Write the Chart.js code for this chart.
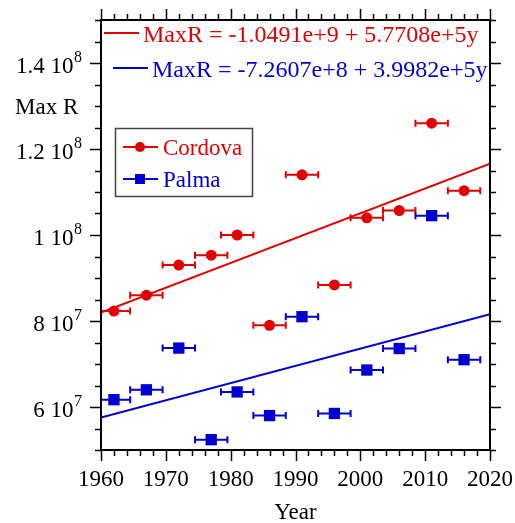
<!DOCTYPE html>
<html>
<head>
<meta charset="utf-8">
<script src="https://cdn.jsdelivr.net/npm/chart.js@4"></script>
<style>
  html, body { margin: 0; padding: 0; background: #fff; }
  #wrap { width: 515px; height: 523px; }
</style>
</head>
<body>
<div id="wrap"><canvas id="maxrChart" width="515" height="523"></canvas></div>
<script>
// data
const years = [1962, 1967, 1972, 1977, 1981, 1986, 1991, 1996, 2001, 2006, 2011, 2016];
const cordova = [8.23e7, 8.6e7, 9.3e7, 9.53e7, 1.0e8, 7.9e7, 1.14e8, 8.84e7, 1.04e8, 1.057e8, 1.26e8, 1.103e8];
const palma = [6.17e7, 6.4e7, 7.37e7, 5.24e7, 6.35e7, 5.8e7, 8.1e7, 5.85e7, 6.86e7, 7.36e7, 1.045e8, 7.1e7];
const yearErr = 2.5;

// fit lines, as printed on the chart: MaxR = a + b*y
const fitCordova = [-1.0491e9, 5.7708e5];
const fitPalma = [-7.2607e8, 3.9982e5];
const fitRange = [1960, 2020];
const fitLabels = ['MaxR = -1.0491e+9 + 5.7708e+5y', 'MaxR = -7.2607e+8 + 3.9982e+5y'];

const xTicks = [1960, 1970, 1980, 1990, 2000, 2010, 2020];
const yTickValues = [6e7, 8e7, 1e8, 1.2e8, 1.4e8];
const yTickMantissa = ['6', '8', '1', '1.2', '1.4'];
const yTickExp = ['7', '7', '8', '8', '8'];

const RED = 'rgb(225,0,0)';
const BLUE = 'rgb(0,0,210)';
const FONT = '"Liberation Serif", "Times New Roman", serif';

const toPoints = (xs, ys) => xs.map((x, i) => ({ x: x, y: ys[i] }));
const fitPoints = fit => fitRange.map(x => ({ x: x, y: fit[0] + fit[1] * x }));

// horizontal error bars, under the markers
const errorBars = {
    id: 'errorBars',
    beforeDatasetsDraw(chart) {
        const { ctx, chartArea: a, scales: { x, y } } = chart;
        ctx.save();
        ctx.beginPath();
        ctx.rect(a.left, a.top, a.right - a.left, a.bottom - a.top);
        ctx.clip();
        ctx.lineWidth = 2;
        chart.data.datasets.forEach(ds => {
            if (!ds.xErr) return;
            ctx.strokeStyle = ds.borderColor;
            ds.data.forEach(p => {
                const x0 = x.getPixelForValue(p.x - ds.xErr);
                const x1 = x.getPixelForValue(p.x + ds.xErr);
                const py = y.getPixelForValue(p.y);
                ctx.beginPath();
                ctx.moveTo(x0, py); ctx.lineTo(x1, py);
                ctx.moveTo(x0, py - 3.5); ctx.lineTo(x0, py + 3.5);
                ctx.moveTo(x1, py - 3.5); ctx.lineTo(x1, py + 3.5);
                ctx.stroke();
            });
        });
        ctx.restore();
    }
};

// frame, ticks, labels, legend and fit equations
const decorations = {
    id: 'decorations',
    afterDraw(chart) {
        const { ctx, chartArea: a, scales: { x, y } } = chart;
        ctx.save();
        ctx.strokeStyle = '#000';
        ctx.lineWidth = 2;
        ctx.strokeRect(a.left, a.top, a.right - a.left, a.bottom - a.top);

        const major = 11, minor = 6;
        ctx.lineWidth = 1.5;
        ctx.beginPath();
        for (let yr = 1960; yr <= 2020; yr += 2) {
            const px = Math.round(x.getPixelForValue(yr)) + 0.5;
            const len = yr % 10 === 0 ? major : minor;
            ctx.moveTo(px, a.bottom); ctx.lineTo(px, a.bottom + len);
            ctx.moveTo(px, a.top); ctx.lineTo(px, a.top - len);
        }
        for (let v = 5e7; v <= 1.5e8; v += 5e6) {
            const py = Math.round(y.getPixelForValue(v)) + 0.5;
            const len = Math.round(v / 5e6) % 4 === 0 ? major : minor;
            ctx.moveTo(a.left, py); ctx.lineTo(a.left - len, py);
            ctx.moveTo(a.right, py); ctx.lineTo(a.right + len, py);
        }
        ctx.stroke();

        ctx.fillStyle = '#000';
        ctx.font = '23px ' + FONT;
        ctx.textAlign = 'center';
        ctx.textBaseline = 'alphabetic';
        xTicks.forEach(t => ctx.fillText(String(t), x.getPixelForValue(t), 486));
        ctx.fillText('Year', (a.left + a.right) / 2, 519);

        yTickValues.forEach((v, i) => {
            const py = y.getPixelForValue(v);
            ctx.font = '16px ' + FONT;
            ctx.textAlign = 'right';
            const w = ctx.measureText(yTickExp[i]).width;
            ctx.fillText(yTickExp[i], 82, py - 1);
            ctx.font = '23px ' + FONT;
            ctx.fillText(yTickMantissa[i] + ' 10', 82 - w - 0.5, py + 9.5);
        });
        ctx.textAlign = 'left';
        ctx.fillText('Max R', 15, y.getPixelForValue(1.3e8) + 8);

        // fit equations
        const eq = [[RED, 104, 33, fitLabels[0]], [BLUE, 113, 68, fitLabels[1]]];
        ctx.font = '24px ' + FONT;
        eq.forEach(([c, x0, py, txt]) => {
            ctx.strokeStyle = c;
            ctx.lineWidth = 2;
            ctx.beginPath();
            ctx.moveTo(x0, py); ctx.lineTo(x0 + 35, py);
            ctx.stroke();
            ctx.fillStyle = c;
            ctx.fillText(txt, x0 + 39, py + 9);
        });

        // legend box
        ctx.strokeStyle = '#444';
        ctx.lineWidth = 1.5;
        ctx.strokeRect(115.5, 128.5, 137, 68);
        const rows = [[RED, 147, 'Cordova', 'circle'], [BLUE, 179, 'Palma', 'rect']];
        rows.forEach(([c, py, name, shape]) => {
            ctx.strokeStyle = c;
            ctx.fillStyle = c;
            ctx.lineWidth = 2;
            ctx.beginPath();
            ctx.moveTo(123, py); ctx.lineTo(158, py);
            ctx.stroke();
            if (shape === 'circle') {
                ctx.beginPath();
                ctx.arc(140, py, 5, 0, Math.PI * 2);
                ctx.fill();
            } else {
                ctx.fillRect(135, py - 5, 10, 10);
            }
            ctx.font = '23px ' + FONT;
            ctx.fillText(name, 163, py + 8);
        });
        ctx.restore();
    }
};

const ctx = document.getElementById('maxrChart').getContext('2d');
new Chart(ctx, {
    type: 'scatter',
    data: {
        datasets: [
            {
                label: 'Cordova fit', type: 'line', data: fitPoints(fitCordova),
                borderColor: RED, borderWidth: 2, pointRadius: 0, order: 3
            },
            {
                label: 'Palma fit', type: 'line', data: fitPoints(fitPalma),
                borderColor: BLUE, borderWidth: 2, pointRadius: 0, order: 4
            },
            {
                label: 'Cordova', data: toPoints(years, cordova), xErr: yearErr,
                borderColor: RED, backgroundColor: RED, pointStyle: 'circle',
                pointRadius: 5.5, borderWidth: 0, order: 1
            },
            {
                label: 'Palma', data: toPoints(years, palma), xErr: yearErr,
                borderColor: BLUE, backgroundColor: BLUE, pointStyle: 'rect',
                pointRadius: 8, borderWidth: 0, order: 2
            }
        ]
    },
    options: {
        responsive: false,
        animation: false,
        layout: { padding: { left: 101, top: 20, right: 25, bottom: 73 } },
        plugins: { legend: { display: false }, tooltip: { enabled: false } },
        scales: {
            x: { type: 'linear', min: 1960, max: 2020, display: false },
            y: { type: 'linear', min: 5e7, max: 1.5e8, display: false }
        }
    },
    plugins: [errorBars, decorations]
});
</script>
</body>
</html>
